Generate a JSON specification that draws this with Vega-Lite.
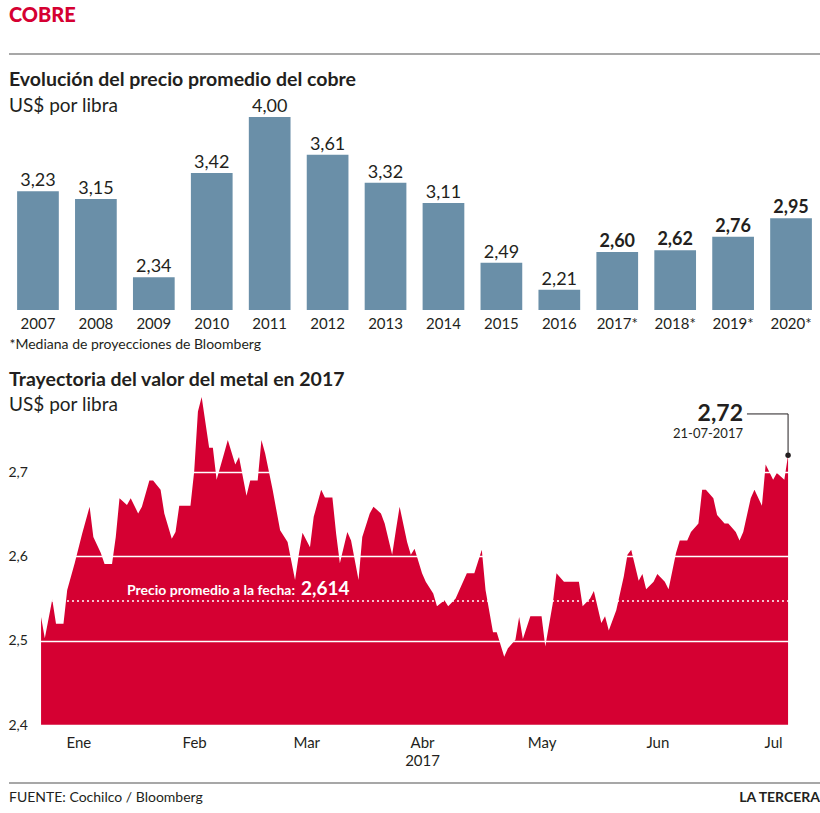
{
  "$schema": "https://vega.github.io/schema/vega-lite/v6.json",
  "background": "white",
  "padding": {"left": 8, "top": 6, "right": 1, "bottom": 5},
  "config": {
    "font": "Lato",
    "view": {"stroke": null},
    "locale": {"number": {"decimal": ",", "thousands": ".", "grouping": [3], "currency": ["US$", ""]}},
    "title": {"color": "#231f20", "subtitleColor": "#231f20"},
    "axis": {"labelColor": "#231f20", "titleColor": "#231f20"}
  },
  "bounds": "flush",
  "spacing": 58,
  "vconcat": [
    {
      "width": 811,
      "height": 1,
      "title": {"text": "COBRE", "anchor": "start", "frame": "group", "fontSize": 20, "fontWeight": 900, "color": "#d50032", "offset": 27},
      "data": {"values": [{"inicio": 0, "fin": 1}]},
      "mark": {"type": "rule", "stroke": "#8a8a8a", "strokeWidth": 1.5},
      "encoding": {
        "x": {"field": "inicio", "type": "quantitative", "scale": {"domain": [0, 1]}, "axis": null},
        "x2": {"field": "fin"},
        "y": {"datum": 0, "type": "quantitative", "scale": {"domain": [0, 1]}, "axis": null}
      }
    },
    {
      "width": 811,
      "height": 198,
      "title": {"text": "Evolución del precio promedio del cobre", "subtitle": "US$ por libra", "anchor": "start", "frame": "group", "fontSize": 19.5, "fontWeight": "bold", "subtitleFontSize": 19, "subtitlePadding": 7, "offset": -19},
      "data": {"values": [
        {"anio": "2007", "precio": 3.23, "proyeccion": false},
        {"anio": "2008", "precio": 3.15, "proyeccion": false},
        {"anio": "2009", "precio": 2.34, "proyeccion": false},
        {"anio": "2010", "precio": 3.42, "proyeccion": false},
        {"anio": "2011", "precio": 4.00, "proyeccion": false},
        {"anio": "2012", "precio": 3.61, "proyeccion": false},
        {"anio": "2013", "precio": 3.32, "proyeccion": false},
        {"anio": "2014", "precio": 3.11, "proyeccion": false},
        {"anio": "2015", "precio": 2.49, "proyeccion": false},
        {"anio": "2016", "precio": 2.21, "proyeccion": false},
        {"anio": "2017*", "precio": 2.60, "proyeccion": true},
        {"anio": "2018*", "precio": 2.62, "proyeccion": true},
        {"anio": "2019*", "precio": 2.76, "proyeccion": true},
        {"anio": "2020*", "precio": 2.95, "proyeccion": true}
      ]},
      "encoding": {
        "x": {"field": "anio", "type": "nominal", "sort": null,
              "scale": {"paddingInner": 0.28, "paddingOuter": 0.14},
              "axis": {"title": "*Mediana de proyecciones de Bloomberg", "titleAnchor": "start", "titleAlign": "left", "titleFontSize": 14, "titleFontWeight": "normal", "titlePadding": 6, "labelFontSize": 15, "labelAngle": 0, "labelPadding": 6, "ticks": false, "domain": false}},
        "y": {"field": "precio", "type": "quantitative", "scale": {"domain": [2, 4.052], "zero": false, "nice": false}, "axis": null}
      },
      "layer": [
        {"mark": {"type": "bar", "color": "#6a8fa8"}, "encoding": {"y2": {"datum": 2}}},
        {"transform": [{"filter": "!datum.proyeccion"}],
         "mark": {"type": "text", "baseline": "alphabetic", "dy": -5, "fontSize": 18, "color": "#231f20"},
         "encoding": {"text": {"field": "precio", "type": "quantitative", "format": ".2f"}}},
        {"transform": [{"filter": "datum.proyeccion"}],
         "mark": {"type": "text", "baseline": "alphabetic", "dy": -5, "fontSize": 18, "fontWeight": "bold", "color": "#231f20"},
         "encoding": {"text": {"field": "precio", "type": "quantitative", "format": ".2f"}}}
      ]
    },
    {
      "width": 780,
      "height": 357,
      "title": {"text": "Trayectoria del valor del metal en 2017", "subtitle": "US$ por libra", "anchor": "start", "frame": "group", "fontSize": 19.5, "fontWeight": "bold", "subtitleFontSize": 19, "subtitlePadding": 6, "offset": -48},
      "layer": [
        {
          "data": {"values": [
            {"fecha": "2017-01-02", "precio": 2.528}, {"fecha": "2017-01-03", "precio": 2.503}, {"fecha": "2017-01-05", "precio": 2.549},
            {"fecha": "2017-01-06", "precio": 2.52}, {"fecha": "2017-01-08", "precio": 2.52}, {"fecha": "2017-01-09", "precio": 2.56},
            {"fecha": "2017-01-11", "precio": 2.592}, {"fecha": "2017-01-13", "precio": 2.627}, {"fecha": "2017-01-15", "precio": 2.659},
            {"fecha": "2017-01-16", "precio": 2.623}, {"fecha": "2017-01-18", "precio": 2.604}, {"fecha": "2017-01-19", "precio": 2.591},
            {"fecha": "2017-01-21", "precio": 2.591}, {"fecha": "2017-01-22", "precio": 2.623}, {"fecha": "2017-01-23", "precio": 2.669},
            {"fecha": "2017-01-25", "precio": 2.661}, {"fecha": "2017-01-26", "precio": 2.669}, {"fecha": "2017-01-28", "precio": 2.651},
            {"fecha": "2017-01-29", "precio": 2.659}, {"fecha": "2017-01-31", "precio": 2.69}, {"fecha": "2017-02-01", "precio": 2.69},
            {"fecha": "2017-02-03", "precio": 2.679}, {"fecha": "2017-02-04", "precio": 2.651}, {"fecha": "2017-02-06", "precio": 2.621},
            {"fecha": "2017-02-07", "precio": 2.629}, {"fecha": "2017-02-08", "precio": 2.66}, {"fecha": "2017-02-11", "precio": 2.66},
            {"fecha": "2017-02-12", "precio": 2.701}, {"fecha": "2017-02-13", "precio": 2.772}, {"fecha": "2017-02-14", "precio": 2.789},
            {"fecha": "2017-02-16", "precio": 2.729}, {"fecha": "2017-02-17", "precio": 2.729}, {"fecha": "2017-02-18", "precio": 2.691},
            {"fecha": "2017-02-20", "precio": 2.722}, {"fecha": "2017-02-21", "precio": 2.738}, {"fecha": "2017-02-23", "precio": 2.709},
            {"fecha": "2017-02-24", "precio": 2.718}, {"fecha": "2017-02-26", "precio": 2.672}, {"fecha": "2017-02-27", "precio": 2.69},
            {"fecha": "2017-03-01", "precio": 2.69}, {"fecha": "2017-03-02", "precio": 2.738}, {"fecha": "2017-03-03", "precio": 2.722},
            {"fecha": "2017-03-05", "precio": 2.679}, {"fecha": "2017-03-06", "precio": 2.655}, {"fecha": "2017-03-07", "precio": 2.631},
            {"fecha": "2017-03-09", "precio": 2.617}, {"fecha": "2017-03-11", "precio": 2.572}, {"fecha": "2017-03-12", "precio": 2.602},
            {"fecha": "2017-03-13", "precio": 2.628}, {"fecha": "2017-03-15", "precio": 2.611}, {"fecha": "2017-03-16", "precio": 2.647},
            {"fecha": "2017-03-18", "precio": 2.679}, {"fecha": "2017-03-19", "precio": 2.67}, {"fecha": "2017-03-21", "precio": 2.67},
            {"fecha": "2017-03-22", "precio": 2.627}, {"fecha": "2017-03-23", "precio": 2.592}, {"fecha": "2017-03-25", "precio": 2.629},
            {"fecha": "2017-03-26", "precio": 2.619}, {"fecha": "2017-03-28", "precio": 2.572}, {"fecha": "2017-03-29", "precio": 2.623},
            {"fecha": "2017-03-31", "precio": 2.651}, {"fecha": "2017-04-01", "precio": 2.659}, {"fecha": "2017-04-03", "precio": 2.651},
            {"fecha": "2017-04-04", "precio": 2.639}, {"fecha": "2017-04-06", "precio": 2.602}, {"fecha": "2017-04-07", "precio": 2.631},
            {"fecha": "2017-04-08", "precio": 2.659}, {"fecha": "2017-04-10", "precio": 2.617}, {"fecha": "2017-04-11", "precio": 2.602},
            {"fecha": "2017-04-12", "precio": 2.609}, {"fecha": "2017-04-14", "precio": 2.58}, {"fecha": "2017-04-15", "precio": 2.57},
            {"fecha": "2017-04-17", "precio": 2.556}, {"fecha": "2017-04-18", "precio": 2.541}, {"fecha": "2017-04-20", "precio": 2.548},
            {"fecha": "2017-04-21", "precio": 2.541}, {"fecha": "2017-04-23", "precio": 2.55}, {"fecha": "2017-04-24", "precio": 2.56},
            {"fecha": "2017-04-26", "precio": 2.58}, {"fecha": "2017-04-28", "precio": 2.58}, {"fecha": "2017-04-30", "precio": 2.608},
            {"fecha": "2017-05-01", "precio": 2.56}, {"fecha": "2017-05-03", "precio": 2.51}, {"fecha": "2017-05-04", "precio": 2.51},
            {"fecha": "2017-05-06", "precio": 2.481}, {"fecha": "2017-05-07", "precio": 2.491}, {"fecha": "2017-05-09", "precio": 2.501},
            {"fecha": "2017-05-10", "precio": 2.528}, {"fecha": "2017-05-11", "precio": 2.502}, {"fecha": "2017-05-13", "precio": 2.529},
            {"fecha": "2017-05-16", "precio": 2.529}, {"fecha": "2017-05-17", "precio": 2.493}, {"fecha": "2017-05-19", "precio": 2.544},
            {"fecha": "2017-05-20", "precio": 2.58}, {"fecha": "2017-05-22", "precio": 2.57}, {"fecha": "2017-05-26", "precio": 2.57},
            {"fecha": "2017-05-27", "precio": 2.541}, {"fecha": "2017-05-29", "precio": 2.55}, {"fecha": "2017-05-30", "precio": 2.559},
            {"fecha": "2017-06-01", "precio": 2.521}, {"fecha": "2017-06-02", "precio": 2.529}, {"fecha": "2017-06-03", "precio": 2.512},
            {"fecha": "2017-06-05", "precio": 2.536}, {"fecha": "2017-06-07", "precio": 2.576}, {"fecha": "2017-06-08", "precio": 2.602},
            {"fecha": "2017-06-09", "precio": 2.608}, {"fecha": "2017-06-11", "precio": 2.571}, {"fecha": "2017-06-12", "precio": 2.579},
            {"fecha": "2017-06-13", "precio": 2.561}, {"fecha": "2017-06-15", "precio": 2.57}, {"fecha": "2017-06-16", "precio": 2.579},
            {"fecha": "2017-06-18", "precio": 2.57}, {"fecha": "2017-06-19", "precio": 2.561}, {"fecha": "2017-06-21", "precio": 2.604},
            {"fecha": "2017-06-22", "precio": 2.619}, {"fecha": "2017-06-24", "precio": 2.619}, {"fecha": "2017-06-25", "precio": 2.629},
            {"fecha": "2017-06-27", "precio": 2.639}, {"fecha": "2017-06-28", "precio": 2.679}, {"fecha": "2017-06-29", "precio": 2.679},
            {"fecha": "2017-07-01", "precio": 2.669}, {"fecha": "2017-07-02", "precio": 2.649}, {"fecha": "2017-07-04", "precio": 2.639},
            {"fecha": "2017-07-05", "precio": 2.639}, {"fecha": "2017-07-07", "precio": 2.629}, {"fecha": "2017-07-08", "precio": 2.619},
            {"fecha": "2017-07-09", "precio": 2.629}, {"fecha": "2017-07-11", "precio": 2.669}, {"fecha": "2017-07-12", "precio": 2.679},
            {"fecha": "2017-07-14", "precio": 2.66}, {"fecha": "2017-07-15", "precio": 2.709}, {"fecha": "2017-07-17", "precio": 2.691},
            {"fecha": "2017-07-18", "precio": 2.699}, {"fecha": "2017-07-20", "precio": 2.691}, {"fecha": "2017-07-21", "precio": 2.72}
          ], "format": {"parse": {"fecha": "date:'%Y-%m-%d'"}}},
          "mark": {"type": "area", "color": "#d50032", "interpolate": "linear"},
          "encoding": {
            "x": {"field": "fecha", "type": "temporal",
                  "scale": {"domain": [{"year": 2016, "month": 12, "date": 24, "hours": 10}, {"year": 2017, "month": 7, "date": 21, "hours": 6}], "nice": false},
                  "axis": {"title": null, "grid": false, "ticks": false, "domain": false, "labelFontSize": 15, "labelPadding": 10, "labelLineHeight": 18, "labelBaseline": "top",
                           "values": [{"year": 2017, "month": 1, "date": 12}, {"year": 2017, "month": 2, "date": 12}, {"year": 2017, "month": 3, "date": 14}, {"year": 2017, "month": 4, "date": 14}, {"year": 2017, "month": 5, "date": 16}, {"year": 2017, "month": 6, "date": 16}, {"year": 2017, "month": 7, "date": 17}],
                           "labelExpr": "month(datum.value) == 3 ? ['Abr', '2017'] : ['Ene', 'Feb', 'Mar', 'Abr', 'May', 'Jun', 'Jul'][month(datum.value)]"}},
            "y": {"field": "precio", "type": "quantitative",
                  "scale": {"domain": [2.4, 2.8235], "zero": false, "nice": false},
                  "axis": {"title": null, "values": [2.4, 2.5, 2.6, 2.7], "format": ".1f", "labelAlign": "left", "labelPadding": 1, "labelFontSize": 14, "ticks": false, "domain": false, "grid": true, "gridColor": "white", "gridWidth": 1.5, "zindex": 1}},
            "y2": {"datum": 2.4}
          }
        },
        {
          "data": {"values": [{"linea": 2.547, "fecha": "2017-01-25", "texto": "Precio promedio a la fecha:", "valor": "2,614"}], "format": {"parse": {"fecha": "date:'%Y-%m-%d'"}}},
          "layer": [
            {"mark": {"type": "rule", "stroke": "white", "strokeWidth": 1.5, "strokeDash": [2, 3]},
             "encoding": {"y": {"field": "linea", "type": "quantitative"}}},
            {"mark": {"type": "text", "align": "left", "baseline": "alphabetic", "dy": -6, "fontSize": 14, "fontWeight": "bold", "color": "white"},
             "encoding": {"x": {"field": "fecha", "type": "temporal"}, "y": {"field": "linea", "type": "quantitative"}, "text": {"field": "texto"}}},
            {"mark": {"type": "text", "align": "left", "baseline": "alphabetic", "dy": -6, "dx": 174, "fontSize": 19, "fontWeight": "bold", "color": "white"},
             "encoding": {"x": {"field": "fecha", "type": "temporal"}, "y": {"field": "linea", "type": "quantitative"}, "text": {"field": "valor"}}}
          ]
        },
        {
          "data": {"values": [{"fecha": "2017-07-21", "fecha_linea": "2017-07-10", "precio": 2.72, "altura": 2.769, "etiqueta": "2,72", "fecha_texto": "21-07-2017"}], "format": {"parse": {"fecha": "date:'%Y-%m-%d'", "fecha_linea": "date:'%Y-%m-%d'"}}},
          "layer": [
            {"mark": {"type": "rule", "stroke": "#231f20", "strokeWidth": 1},
             "encoding": {"x": {"field": "fecha_linea", "type": "temporal"}, "x2": {"field": "fecha"}, "y": {"field": "altura", "type": "quantitative"}}},
            {"mark": {"type": "rule", "stroke": "#231f20", "strokeWidth": 1},
             "encoding": {"x": {"field": "fecha", "type": "temporal"}, "y": {"field": "altura", "type": "quantitative"}, "y2": {"field": "precio"}}},
            {"mark": {"type": "point", "filled": true, "color": "#231f20", "size": 30, "opacity": 1},
             "encoding": {"x": {"field": "fecha", "type": "temporal"}, "y": {"field": "precio", "type": "quantitative"}}},
            {"mark": {"type": "text", "align": "right", "baseline": "middle", "dx": -4, "fontSize": 23, "fontWeight": "bold", "color": "#231f20"},
             "encoding": {"x": {"field": "fecha_linea", "type": "temporal"}, "y": {"field": "altura", "type": "quantitative"}, "text": {"field": "etiqueta"}}},
            {"mark": {"type": "text", "align": "right", "baseline": "top", "dx": -4, "dy": 14, "fontSize": 13, "color": "#231f20"},
             "encoding": {"x": {"field": "fecha_linea", "type": "temporal"}, "y": {"field": "altura", "type": "quantitative"}, "text": {"field": "fecha_texto"}}}
          ]
        }
      ]
    },
    {
      "width": 811,
      "height": 1,
      "data": {"values": [{"inicio": 0, "fin": 1, "fuente": "FUENTE: Cochilco / Bloomberg", "medio": "LA TERCERA"}]},
      "encoding": {
        "y": {"datum": 1, "type": "quantitative", "scale": {"domain": [0, 1]}, "axis": null}
      },
      "layer": [
        {"mark": {"type": "rule", "stroke": "#8a8a8a", "strokeWidth": 1.5},
         "encoding": {"x": {"field": "inicio", "type": "quantitative", "scale": {"domain": [0, 1]}, "axis": null}, "x2": {"field": "fin"}}},
        {"mark": {"type": "text", "align": "left", "baseline": "top", "dy": 8, "fontSize": 14, "color": "#231f20"},
         "encoding": {"x": {"field": "inicio", "type": "quantitative", "scale": {"domain": [0, 1]}, "axis": null}, "text": {"field": "fuente"}}},
        {"mark": {"type": "text", "align": "right", "baseline": "top", "dy": 8, "fontSize": 14, "fontWeight": "bold", "color": "#231f20"},
         "encoding": {"x": {"field": "fin", "type": "quantitative", "scale": {"domain": [0, 1]}, "axis": null}, "text": {"field": "medio"}}}
      ]
    }
  ]
}
